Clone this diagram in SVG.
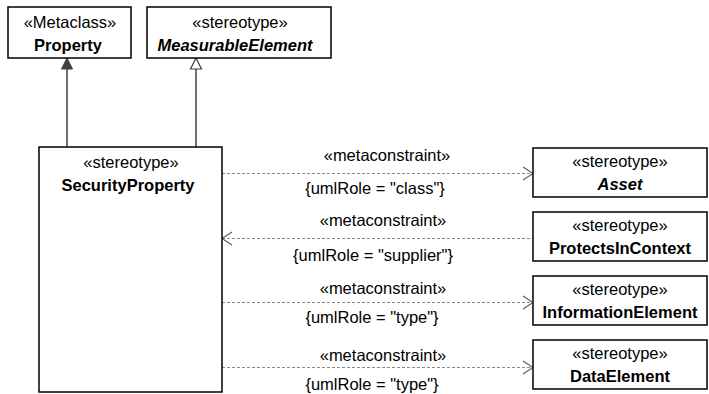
<svg xmlns="http://www.w3.org/2000/svg" width="709" height="394" viewBox="0 0 709 394">
<style>
.box{fill:#fff;stroke:#000;stroke-width:1.5}
text{font-family:"Liberation Sans",Arial,sans-serif;font-size:16.5px;fill:#000;text-anchor:middle}
.b{font-weight:bold}
.bi{font-weight:bold;font-style:italic}
.gen{stroke:#404040;stroke-width:1.5;fill:none}
.dep{stroke:#8a8a8a;stroke-width:1.2;stroke-dasharray:3,2;fill:none}
.head{stroke:#606060;stroke-width:1.2;fill:none}
</style>
<rect width="709" height="394" fill="#fff"/>
<g id="connectors">
<line class="gen" x1="67" y1="147" x2="67" y2="68"/>
<polygon points="67,58 61.5,69 72.5,69" fill="#404040" stroke="#404040" stroke-width="1"/>
<line class="gen" x1="196" y1="147" x2="196" y2="69"/>
<polygon points="196,58 190.5,69 201.5,69" fill="#fff" stroke="#404040" stroke-width="1.2"/>
<line class="dep" x1="222" y1="173.5" x2="533" y2="173.5"/>
<polyline class="head" points="523,167 533,173.5 523,180"/>
<line class="dep" x1="222" y1="238.5" x2="533" y2="238.5"/>
<polyline class="head" points="232,232 222,238.5 232,245"/>
<line class="dep" x1="222" y1="302.5" x2="533" y2="302.5"/>
<polyline class="head" points="523,296 533,302.5 523,309"/>
<line class="dep" x1="222" y1="367.5" x2="533" y2="367.5"/>
<polyline class="head" points="523,361 533,367.5 523,374"/>
<text x="387" y="161">«metaconstraint»</text>
<text x="375" y="194">{umlRole = "class"}</text>
<text x="383" y="226">«metaconstraint»</text>
<text x="373" y="261">{umlRole = "supplier"}</text>
<text x="383" y="294">«metaconstraint»</text>
<text x="372" y="323">{umlRole = "type"}</text>
<text x="383" y="361">«metaconstraint»</text>
<text x="372" y="390">{umlRole = "type"}</text>
</g>
<g id="Property">
<rect class="box" x="8" y="7" width="123" height="51"/>
<text x="70" y="28">«Metaclass»</text>
<text class="b" x="68" y="51">Property</text>
</g>
<g id="MeasurableElement">
<rect class="box" x="147" y="7" width="184" height="51"/>
<text x="240" y="28">«stereotype»</text>
<text class="bi" x="235" y="51">MeasurableElement</text>
</g>
<g id="SecurityProperty">
<rect class="box" x="39" y="147" width="183" height="245"/>
<text x="131" y="168">«stereotype»</text>
<text class="b" x="128" y="191">SecurityProperty</text>
</g>
<g id="Asset">
<rect class="box" x="533" y="148" width="174" height="49"/>
<text x="620" y="167">«stereotype»</text>
<text class="bi" x="620" y="190">Asset</text>
</g>
<g id="ProtectsInContext">
<rect class="box" x="533" y="212" width="174" height="49"/>
<text x="620" y="231">«stereotype»</text>
<text class="b" x="620" y="254">ProtectsInContext</text>
</g>
<g id="InformationElement">
<rect class="box" x="533" y="276" width="174" height="49"/>
<text x="620" y="295">«stereotype»</text>
<text class="b" x="620" y="318">InformationElement</text>
</g>
<g id="DataElement">
<rect class="box" x="533" y="340" width="174" height="49"/>
<text x="620" y="359">«stereotype»</text>
<text class="b" x="620" y="382">DataElement</text>
</g>
</svg>
